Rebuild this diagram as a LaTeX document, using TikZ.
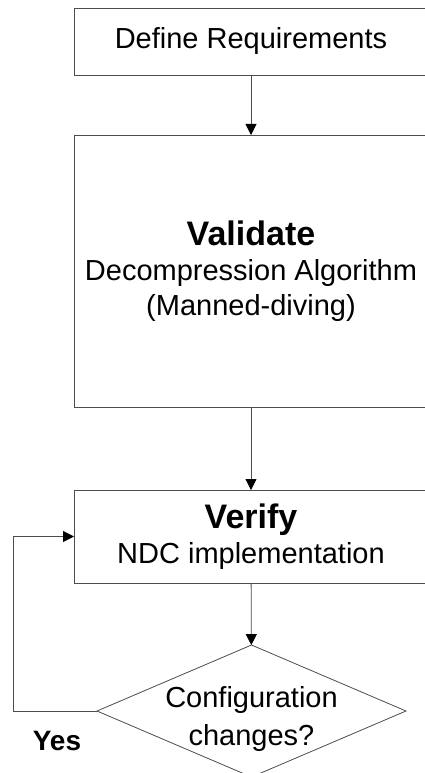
\documentclass[tikz,border=0pt]{standalone}
\usepackage{fontspec}
\setmainfont{Liberation Sans}
\usepackage{tikz}
\usetikzlibrary{arrows.meta,calc,positioning,shapes.geometric}

\begin{document}
\begin{tikzpicture}[x=1pt,y=-1pt,
	stepbox/.style={draw=black!70,line width=0.8pt,minimum width=354pt,inner sep=0pt,outer sep=0pt,align=center,font=\fontsize{29}{35}\selectfont},
	decision/.style={draw=black!70,line width=0.8pt,diamond,minimum width=309pt,minimum height=132pt,inner sep=0pt,outer sep=0pt},
	arr/.style={draw=black!70,line width=0.8pt,-{Triangle[length=11pt,width=11pt,color=black]}}]
		\useasboundingbox (0,0) rectangle (424,773);
		% boxes
		\node[stepbox,minimum height=67pt] (req) at (251,41.5) {Define Requirements};
		\node[stepbox,minimum height=272pt] (val) at (251,271) {{\bfseries\fontsize{34}{35}\selectfont Validate}\\Decompression Algorithm\\(Manned-diving)};
		\node[stepbox,minimum height=93pt] (ver) at (251,536.5) {{\bfseries\fontsize{34}{37}\selectfont Verify}\\NDC implementation};
		\node[decision,label={[align=center,font=\fontsize{29}{38}\selectfont,yshift=-8pt]center:Configuration\\changes?}] (chg) at (251.5,711) {};
		\node[font=\bfseries\fontsize{28}{30}\selectfont] (yes) at (57,741) {Yes};
		% arrows
		\draw[arr] (req) -- (val);
		\draw[arr] (val) -- (ver);
		\draw[arr] (ver) -- (chg);
		\coordinate (back) at (13,711);
		\draw[arr] (chg.west) -- (back) |- (ver.west);
		\end{tikzpicture}
\end{document}
